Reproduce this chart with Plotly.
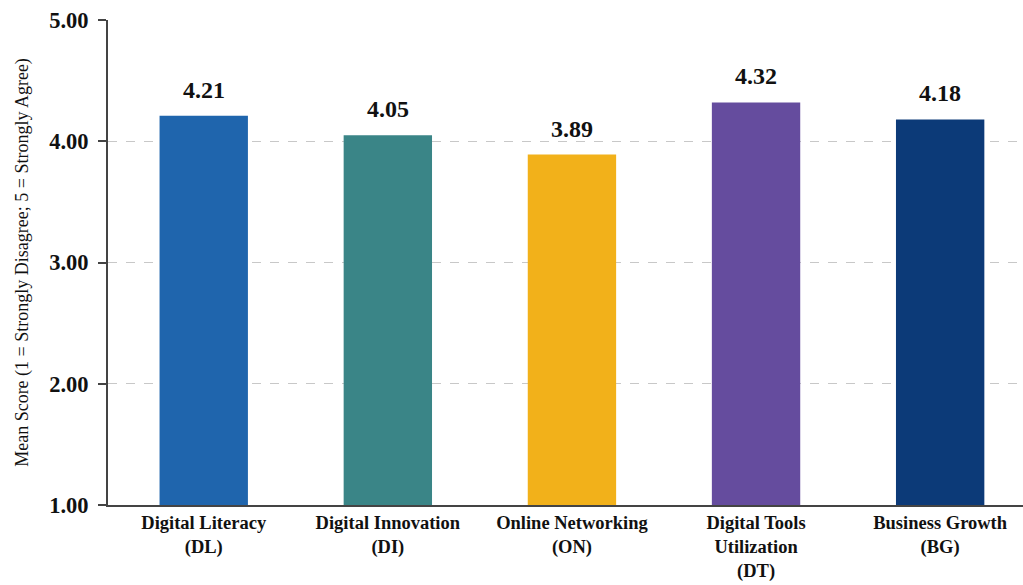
import plotly.graph_objects as go

categories = ["Digital Literacy<br>(DL)", "Digital Innovation<br>(DI)", "Online Networking<br>(ON)",
              "Digital Tools<br>Utilization<br>(DT)", "Business Growth<br>(BG)"]
values = [4.21, 4.05, 3.89, 4.32, 4.18]
labels = ["4.21", "4.05", "3.89", "4.32", "4.18"]
colors = ["#1f65ad", "#3a8587", "#f2b11a", "#654c9e", "#0c3a78"]
y_ticks = [1, 2, 3, 4, 5]
y_tick_text = ["1.00", "2.00", "3.00", "4.00", "5.00"]

FONT = "Liberation Serif"

fig = go.Figure()
fig.add_trace(go.Bar(
    x=categories, y=values, marker=dict(color=colors, line=dict(width=0)),
    base=0, showlegend=False, hoverinfo="skip",
))

for c, v, t in zip(categories, values, labels):
    fig.add_annotation(x=c, y=v, text=f"<b>{t}</b>", showarrow=False,
                       yanchor="bottom", yshift=11,
                       font=dict(family=FONT, size=24, color="#111"))

fig.update_layout(
    width=1023, height=585,
    margin=dict(l=108, r=0, t=20, b=80),
    plot_bgcolor="white", paper_bgcolor="white",
    bargap=0.52,
    font=dict(family=FONT, color="#111"),
)
fig.update_xaxes(
    range=[-0.52, 4.45], showline=True, linecolor="#444", linewidth=2,
    ticks="", showgrid=False,
    tickfont=dict(family=FONT, size=18.5, color="#111"),
    tickprefix="<b>", ticksuffix="</b>",
)
fig.update_yaxes(
    range=[1, 5], tickvals=y_ticks, ticktext=[f"<b>{t}</b>" for t in y_tick_text],
    showline=True, linecolor="#444", linewidth=2,
    ticks="outside", ticklen=8, tickcolor="#444", tickwidth=1.5,
    ticklabelstandoff=5,
    showgrid=True, gridcolor="#c8c8c8", griddash="dash", gridwidth=1,
    zeroline=False,
    tickfont=dict(family=FONT, size=22.5, color="#111"),
    title=dict(text="Mean Score (1 = Strongly Disagree; 5 = Strongly Agree)",
               font=dict(family=FONT, size=18, color="#111"), standoff=16),
)

fig.write_html("out.html")
